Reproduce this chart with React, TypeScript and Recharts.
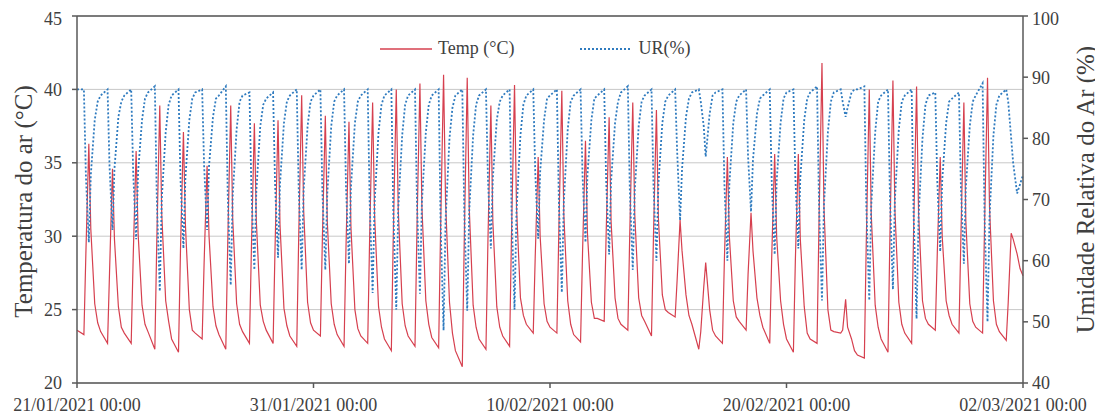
import { CartesianGrid, Legend, Line, LineChart, ReferenceLine, XAxis, YAxis } from 'recharts'

const FONT = '"Liberation Serif", "Times New Roman", serif'
const TEXT = '#404040'
const AXIS = '#595959'
const RED = '#d6404f'
const BLUE = '#2f7bbf'

// readings per day, hours of the day below
const HOURS = [0, 7, 9, 12, 14, 18, 21]
const X_TICKS = [0, 10, 20, 30, 40]
const X_LABELS = ['21/01/2021 00:00', '31/01/2021 00:00', '10/02/2021 00:00', '20/02/2021 00:00', '02/03/2021 00:00']
const TEMP_TICKS = [20, 25, 30, 35, 40, 45]
const UR_TICKS = [40, 50, 60, 70, 80, 90, 100]

const TEMP_ROWS = [
  [23.6, 23.3, 28.8, 36.3, 30.5, 25.4, 24.1],
  [23.5, 22.7, 27.5, 34.6, 29.8, 25.2, 23.8],
  [23.4, 22.7, 28.5, 35.8, 30.2, 25.3, 24.0],
  [23.5, 22.3, 29.8, 38.9, 31.5, 25.6, 24.2],
  [23.0, 22.1, 29.0, 37.1, 30.8, 25.0, 23.6],
  [23.4, 23.0, 28.2, 34.8, 30.0, 25.2, 23.9],
  [23.3, 22.3, 29.6, 38.9, 31.2, 25.4, 24.0],
  [23.5, 22.7, 29.2, 37.7, 31.0, 25.3, 24.2],
  [23.6, 22.7, 29.3, 37.9, 30.8, 25.1, 23.9],
  [23.2, 22.5, 30.0, 39.6, 31.8, 25.5, 24.1],
  [23.6, 23.2, 29.8, 38.2, 31.0, 25.4, 24.0],
  [23.3, 22.5, 29.3, 37.8, 30.6, 25.0, 23.7],
  [23.2, 22.7, 30.0, 39.1, 31.4, 25.2, 23.8],
  [23.0, 22.2, 30.2, 40.0, 31.8, 25.4, 23.9],
  [23.2, 22.5, 30.5, 40.4, 32.0, 25.6, 24.0],
  [23.1, 22.4, 30.6, 41.0, 32.4, 25.5, 23.4],
  [22.2, 21.1, 29.8, 40.8, 32.0, 25.3, 23.8],
  [23.0, 22.3, 29.6, 38.9, 31.0, 25.2, 23.8],
  [23.2, 22.5, 30.4, 40.3, 32.0, 25.8, 24.6],
  [24.0, 23.4, 28.6, 35.4, 30.0, 25.4, 24.2],
  [23.8, 23.4, 30.5, 39.9, 31.5, 25.6, 24.0],
  [23.3, 22.8, 28.8, 36.5, 30.2, 25.5, 24.4],
  [24.4, 24.2, 30.2, 38.1, 31.0, 25.8, 24.4],
  [24.0, 23.6, 30.4, 39.1, 31.5, 25.8, 24.6],
  [24.2, 23.2, 30.0, 38.6, 31.2, 26.0, 25.0],
  [24.8, 24.5, 27.0, 31.1, 29.0, 26.0, 24.6],
  [24.0, 22.3, 23.5, 26.5, 28.2, 25.0, 23.6],
  [23.2, 22.7, 28.5, 35.4, 30.0, 25.6, 24.5],
  [24.2, 23.6, 27.4, 31.6, 29.0, 25.8, 24.6],
  [23.8, 22.7, 28.6, 35.6, 30.0, 25.6, 24.0],
  [23.0, 22.1, 28.4, 35.6, 29.8, 25.2, 23.4],
  [23.0, 22.7, 31.0, 41.8, 32.0, 25.0, 23.6],
  [23.5, 23.4, 23.6, 25.7, 23.8, 23.0, 22.2],
  [21.9, 21.7, 29.8, 40.0, 31.5, 25.3, 23.8],
  [23.0, 22.1, 30.2, 40.6, 31.8, 25.5, 24.0],
  [23.4, 22.7, 30.4, 40.2, 31.6, 25.6, 24.4],
  [24.0, 23.6, 28.8, 35.4, 30.0, 25.6, 24.6],
  [24.0, 23.4, 30.0, 39.1, 31.0, 25.4, 24.2],
  [23.8, 23.4, 30.8, 40.8, 32.0, 25.6, 24.0],
  [23.5, 22.9, 25.5, 30.2, 29.8, 28.8, 27.8],
]

const UR_ROWS = [
  [88.0, 88.0, 74.0, 63.0, 74.0, 83.0, 86.0],
  [87.0, 88.0, 75.5, 65.0, 75.0, 83.5, 86.0],
  [87.0, 88.0, 74.5, 63.5, 74.5, 83.0, 86.5],
  [87.5, 88.5, 70.0, 55.0, 70.0, 81.0, 85.5],
  [87.0, 88.0, 73.5, 62.0, 73.5, 83.0, 86.5],
  [87.5, 88.0, 75.5, 65.0, 75.5, 83.5, 86.5],
  [87.0, 88.5, 70.5, 56.0, 70.5, 81.5, 86.0],
  [87.0, 87.5, 71.5, 58.5, 71.5, 82.0, 85.5],
  [86.5, 87.5, 72.5, 60.5, 72.5, 82.5, 86.0],
  [87.0, 88.0, 71.5, 58.5, 71.5, 82.0, 86.0],
  [87.0, 88.0, 71.5, 58.5, 71.0, 82.0, 86.0],
  [87.0, 88.0, 72.0, 59.5, 72.0, 82.5, 86.0],
  [87.0, 88.0, 69.5, 54.7, 69.5, 81.0, 85.5],
  [87.0, 88.0, 68.0, 52.0, 68.5, 80.5, 85.5],
  [87.0, 88.0, 69.5, 54.6, 69.5, 81.0, 85.5],
  [87.0, 88.0, 66.0, 48.6, 66.5, 80.0, 85.0],
  [87.0, 88.0, 68.0, 51.8, 68.0, 80.5, 85.5],
  [87.0, 88.0, 73.5, 62.0, 73.5, 83.0, 86.0],
  [87.0, 88.0, 68.0, 52.0, 68.0, 80.5, 85.5],
  [87.0, 88.0, 74.5, 63.6, 74.5, 83.0, 86.5],
  [87.0, 88.0, 69.5, 54.8, 69.5, 81.5, 86.0],
  [87.0, 88.0, 74.0, 63.0, 74.0, 83.0, 86.5],
  [87.0, 88.0, 73.0, 61.0, 73.0, 82.5, 86.0],
  [87.5, 88.5, 71.5, 58.5, 71.5, 82.0, 86.0],
  [87.0, 88.0, 72.5, 60.0, 72.5, 82.5, 86.0],
  [87.0, 88.0, 78.0, 66.6, 75.0, 83.5, 86.5],
  [87.5, 88.0, 86.0, 82.0, 77.0, 84.0, 87.0],
  [87.5, 88.0, 72.5, 60.0, 72.5, 82.5, 86.0],
  [87.0, 88.0, 77.0, 68.0, 76.5, 84.0, 86.5],
  [87.0, 88.0, 73.0, 61.0, 73.0, 82.5, 86.5],
  [87.5, 88.0, 73.5, 62.0, 73.5, 83.0, 86.5],
  [87.5, 88.5, 69.0, 53.5, 69.0, 81.0, 86.0],
  [87.5, 88.0, 86.0, 83.5, 85.0, 87.5, 88.0],
  [88.0, 88.5, 69.0, 53.5, 69.0, 81.0, 86.0],
  [87.0, 88.0, 70.0, 55.3, 70.0, 81.5, 86.0],
  [87.0, 88.0, 67.5, 50.5, 67.0, 80.0, 85.5],
  [87.0, 87.5, 73.0, 61.5, 73.0, 82.5, 86.0],
  [86.5, 87.5, 72.0, 59.5, 72.0, 82.0, 86.0],
  [87.0, 89.0, 67.0, 50.0, 67.0, 80.5, 85.5],
  [87.0, 88.0, 86.0, 80.0, 76.0, 71.0, 72.5],
]

const END_TEMP = 27.3
const END_UR = 74

const data = [
  ...TEMP_ROWS.flatMap((row, i) =>
    row.map((t, j) => ({ d: i + HOURS[j] / 24, temp: t, ur: UR_ROWS[i][j] })),
  ),
  { d: 40, temp: END_TEMP, ur: END_UR },
]

const TICK = { fontSize: 18, fill: TEXT, fontFamily: FONT }

function SideTitle({ viewBox, text, dx, dy }: { viewBox?: any; text: string; dx: number; dy: number }) {
  if (!viewBox) return null
  const cx = viewBox.x + dx
  const cy = viewBox.y + viewBox.height / 2 + dy
  return (
    <text
      x={cx}
      y={cy}
      transform={`rotate(-90, ${cx}, ${cy})`}
      textAnchor="middle"
      dominantBaseline="central"
      fontFamily={FONT}
      fontSize={25}
      fill={TEXT}
    >
      {text}
    </text>
  )
}

function LegendBox() {
  return (
    <div style={{ display: 'flex', alignItems: 'center', fontFamily: FONT, fontSize: 18, color: TEXT }}>
      <svg width={52} height={10}>
        <line x1={0} y1={5} x2={52} y2={5} stroke={RED} strokeWidth={1.5} />
      </svg>
      <span style={{ marginLeft: 6 }}>Temp (°C)</span>
      <svg width={50} height={10} style={{ marginLeft: 66 }}>
        <line x1={0} y1={5} x2={50} y2={5} stroke={BLUE} strokeWidth={2} strokeDasharray="2 2" />
      </svg>
      <span style={{ marginLeft: 8 }}>UR(%)</span>
    </div>
  )
}

export default function App() {
  return (
    <LineChart width={1095} height={406} data={data} margin={{ top: 8, right: 0, bottom: 0, left: 0 }}>
      <CartesianGrid yAxisId="left" vertical={false} stroke="#c8c8c8" />
      <XAxis
        dataKey="d"
        type="number"
        domain={[0, 40]}
        ticks={X_TICKS}
        tickFormatter={(v: number) => X_LABELS[X_TICKS.indexOf(v)]}
        tick={TICK}
        height={31}
        tickSize={5}
        tickMargin={10}
        stroke={AXIS}
        strokeWidth={1.5}
        interval={0}
      />
      <YAxis
        yAxisId="left"
        domain={[20, 45]}
        ticks={TEMP_TICKS}
        tick={TICK}
        width={69}
        tickSize={5}
        tickMargin={10}
        stroke={AXIS}
        strokeWidth={1.5}
        label={(p: any) => <SideTitle viewBox={p.viewBox} text="Temperatura do ar (°C)" dx={15} dy={2} />}
      />
      <YAxis
        yAxisId="right"
        orientation="right"
        domain={[40, 100]}
        ticks={UR_TICKS}
        tick={TICK}
        width={80}
        tickSize={5}
        tickMargin={4}
        stroke={AXIS}
        strokeWidth={1.5}
        label={(p: any) => <SideTitle viewBox={p.viewBox} text="Umidade Relativa do Ar (%)" dx={62} dy={-10} />}
      />
      <ReferenceLine yAxisId="left" y={45} stroke={AXIS} strokeWidth={1.5} />
      <Legend
        verticalAlign="middle"
        align="center"
        content={() => <LegendBox />}
        wrapperStyle={{ top: 30, left: 372, width: 360 }}
      />
      <Line
        yAxisId="left"
        type="linear"
        dataKey="temp"
        stroke={RED}
        strokeWidth={1.2}
        dot={false}
        isAnimationActive={false}
      />
      <Line
        yAxisId="right"
        type="linear"
        dataKey="ur"
        stroke={BLUE}
        strokeWidth={1.8}
        strokeDasharray="2 2"
        dot={false}
        isAnimationActive={false}
      />
    </LineChart>
  )
}
